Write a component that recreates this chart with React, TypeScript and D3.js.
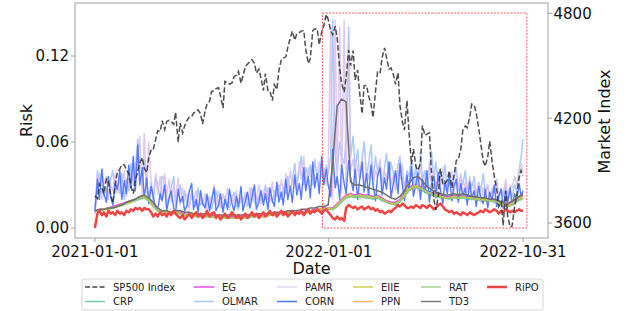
import React from "react";
import * as d3 from "d3";

// ---------- DATA ----------
const startDate = new Date(2021, 0, 1);
const xTickDates = [new Date(2021, 0, 1), new Date(2022, 0, 1), new Date(2022, 9, 31)];
const xTickLabels = ["2021-01-01", "2022-01-01", "2022-10-31"];
const riskTicks = [0, 0.06, 0.12];
const marketTicks = [3600, 4200, 4800];

// semi-weekly series (192 points, every 3.5 days)
const sp500 = [
  3756, 3740, 3824, 3801, 3768, 3852, 3841, 3750, 3714, 3830,
  3886, 3910, 3934, 3932, 3906, 3881, 3811, 3768, 3841, 3898,
  3943, 3974, 3913, 3889, 3974, 4020, 4019, 4080, 4128, 4124,
  4185, 4135, 4180, 4187, 4181, 4165, 4232, 4063, 4173, 4115,
  4155, 4188, 4204, 4208, 4229, 4239, 4247, 4224, 4166, 4241,
  4280, 4297, 4352, 4358, 4369, 4374, 4327, 4258, 4411, 4401,
  4395, 4402, 4436, 4447, 4468, 4400, 4441, 4496, 4509, 4524,
  4535, 4514, 4458, 4480, 4432, 4358, 4455, 4359, 4357, 4300,
  4391, 4364, 4471, 4536, 4544, 4551, 4605, 4660, 4697, 4646,
  4682, 4689, 4698, 4701, 4595, 4513, 4538, 4701, 4712, 4710,
  4620, 4696, 4726, 4793, 4766, 4700, 4677, 4726, 4662, 4483,
  4398, 4349, 4432, 4589, 4500, 4587, 4419, 4475, 4349, 4225,
  4385, 4387, 4329, 4277, 4204, 4357, 4463, 4456, 4543, 4602,
  4546, 4481, 4488, 4446, 4393, 4459, 4272, 4175, 4132, 4300,
  4123, 3935, 4024, 3923, 3901, 3941, 4158, 4101, 4109, 4116,
  3901, 3735, 3675, 3759, 3912, 3818, 3825, 3845, 3899, 3801,
  3863, 3959, 3962, 4023, 4130, 4155, 4145, 4210, 4280, 4274,
  4228, 4140, 4058, 3955, 3924, 3979, 4067, 3946, 3873, 3789,
  3693, 3719, 3586, 3783, 3640, 3577, 3583, 3695, 3752, 3859,
  3901, 3872,
];

const corn = [
  0.012, 0.034, 0.020, 0.041, 0.024, 0.018, 0.036, 0.022, 0.016, 0.031,
  0.027, 0.040, 0.020, 0.033, 0.024, 0.044, 0.028, 0.050, 0.026, 0.058,
  0.030, 0.042, 0.021, 0.035, 0.017, 0.029, 0.022, 0.014, 0.013, 0.024,
  0.019, 0.030, 0.012, 0.021, 0.026, 0.014, 0.011, 0.027, 0.018, 0.022,
  0.012, 0.016, 0.025, 0.031, 0.013, 0.020, 0.011, 0.026, 0.017, 0.014,
  0.023, 0.012, 0.019, 0.028, 0.012, 0.016, 0.024, 0.011, 0.020, 0.013,
  0.027, 0.017, 0.012, 0.022, 0.015, 0.029, 0.012, 0.019, 0.025, 0.014,
  0.021, 0.030, 0.013, 0.018, 0.026, 0.016, 0.024, 0.013, 0.028, 0.019,
  0.015, 0.032, 0.018, 0.025, 0.016, 0.034, 0.020, 0.029, 0.018, 0.037,
  0.023, 0.031, 0.020, 0.042, 0.026, 0.036, 0.021, 0.046, 0.028, 0.038,
  0.024, 0.050, 0.030, 0.041, 0.030, 0.022, 0.055, 0.028, 0.036, 0.020,
  0.044, 0.031, 0.024, 0.047, 0.035, 0.026, 0.041, 0.020, 0.033, 0.046,
  0.025, 0.038, 0.022, 0.044, 0.030, 0.019, 0.036, 0.042, 0.023, 0.035,
  0.027, 0.046, 0.021, 0.032, 0.040, 0.024, 0.045, 0.029, 0.019, 0.037,
  0.026, 0.043, 0.022, 0.031, 0.039, 0.020, 0.034, 0.025, 0.040, 0.018,
  0.030, 0.036, 0.021, 0.039, 0.027, 0.017, 0.033, 0.024, 0.037, 0.019,
  0.029, 0.034, 0.018, 0.031, 0.022, 0.028, 0.016, 0.032, 0.020, 0.026,
  0.015, 0.029, 0.021, 0.017, 0.027, 0.014, 0.025, 0.019, 0.030, 0.015,
  0.022, 0.027, 0.014, 0.026, 0.018, 0.028, 0.016, 0.024, 0.019, 0.031,
  0.022, 0.026,
];

const olmar = [
  0.010, 0.040, 0.030, 0.041, 0.022, 0.028, 0.020, 0.035, 0.040, 0.025,
  0.030, 0.024, 0.038, 0.020, 0.034, 0.026, 0.045, 0.030, 0.040, 0.062,
  0.035, 0.030, 0.048, 0.028, 0.022, 0.032, 0.018, 0.036, 0.030, 0.020,
  0.036, 0.034, 0.016, 0.022, 0.028, 0.036, 0.015, 0.024, 0.030, 0.018,
  0.026, 0.016, 0.014, 0.026, 0.020, 0.015, 0.028, 0.016, 0.020, 0.014,
  0.024, 0.017, 0.013, 0.020, 0.026, 0.015, 0.018, 0.012, 0.022, 0.016,
  0.014, 0.020, 0.025, 0.015, 0.013, 0.022, 0.018, 0.024, 0.015, 0.020,
  0.028, 0.018, 0.016, 0.022, 0.025, 0.018, 0.030, 0.020, 0.024, 0.018,
  0.026, 0.022, 0.030, 0.020, 0.028, 0.024, 0.036, 0.026, 0.034, 0.045,
  0.028, 0.040, 0.050, 0.030, 0.042, 0.036, 0.044, 0.030, 0.048, 0.035,
  0.040, 0.046, 0.032, 0.044, 0.038, 0.050, 0.145, 0.050, 0.040, 0.060,
  0.050, 0.045, 0.062, 0.140, 0.050, 0.064, 0.040, 0.055, 0.035, 0.048,
  0.060, 0.036, 0.045, 0.058, 0.034, 0.050, 0.040, 0.046, 0.030, 0.042,
  0.052, 0.034, 0.046, 0.038, 0.030, 0.044, 0.050, 0.032, 0.028, 0.040,
  0.036, 0.048, 0.030, 0.044, 0.026, 0.052, 0.034, 0.040, 0.028, 0.038,
  0.054, 0.034, 0.046, 0.030, 0.040, 0.032, 0.044, 0.028, 0.038, 0.030,
  0.034, 0.042, 0.026, 0.036, 0.030, 0.040, 0.025, 0.034, 0.028, 0.036,
  0.022, 0.032, 0.026, 0.038, 0.024, 0.030, 0.020, 0.028, 0.024, 0.034,
  0.020, 0.026, 0.022, 0.030, 0.018, 0.025, 0.022, 0.030, 0.026, 0.040,
  0.050, 0.062,
];

const pamr = [
  0.010, 0.025, 0.038, 0.020, 0.030, 0.036, 0.022, 0.030, 0.026, 0.038,
  0.024, 0.034, 0.028, 0.040, 0.022, 0.036, 0.030, 0.044, 0.026, 0.050,
  0.064, 0.020, 0.066, 0.025, 0.060, 0.030, 0.022, 0.038, 0.024, 0.036,
  0.020, 0.038, 0.022, 0.034, 0.018, 0.030, 0.020, 0.035, 0.016, 0.028,
  0.018, 0.024, 0.014, 0.022, 0.018, 0.026, 0.014, 0.020, 0.016, 0.024,
  0.013, 0.022, 0.018, 0.030, 0.016, 0.026, 0.014, 0.024, 0.018, 0.028,
  0.015, 0.022, 0.018, 0.026, 0.014, 0.022, 0.017, 0.025, 0.016, 0.028,
  0.018, 0.024, 0.020, 0.030, 0.017, 0.026, 0.020, 0.028, 0.018, 0.032,
  0.020, 0.027, 0.022, 0.034, 0.024, 0.038, 0.026, 0.040, 0.030, 0.036,
  0.028, 0.046, 0.034, 0.050, 0.030, 0.042, 0.036, 0.044, 0.032, 0.040,
  0.046, 0.036, 0.042, 0.030, 0.040, 0.140, 0.020, 0.145, 0.030, 0.140,
  0.025, 0.145, 0.030, 0.130, 0.040, 0.048, 0.032, 0.044, 0.036, 0.050,
  0.030, 0.042, 0.034, 0.046, 0.030, 0.040, 0.036, 0.048, 0.028, 0.040,
  0.034, 0.046, 0.030, 0.038, 0.026, 0.040, 0.034, 0.044, 0.024, 0.036,
  0.030, 0.042, 0.026, 0.034, 0.030, 0.044, 0.028, 0.036, 0.032, 0.046,
  0.030, 0.040, 0.028, 0.036, 0.030, 0.042, 0.026, 0.034, 0.030, 0.040,
  0.024, 0.034, 0.028, 0.038, 0.022, 0.032, 0.026, 0.036, 0.020, 0.030,
  0.024, 0.032, 0.018, 0.028, 0.022, 0.030, 0.020, 0.026, 0.024, 0.032,
  0.020, 0.028, 0.024, 0.034, 0.022, 0.030, 0.028, 0.036, 0.030, 0.040,
  0.045, 0.040,
];

const ripo = [
  0.000, 0.010, 0.012, 0.009, 0.011, 0.008, 0.012, 0.010, 0.011, 0.009,
  0.012, 0.010, 0.011, 0.009, 0.012, 0.011, 0.013, 0.012, 0.014, 0.013,
  0.014, 0.012, 0.014, 0.013, 0.013, 0.011, 0.008, 0.010, 0.008, 0.011,
  0.009, 0.010, 0.008, 0.011, 0.009, 0.012, 0.010, 0.008, 0.007, 0.009,
  0.006, 0.008, 0.010, 0.007, 0.009, 0.011, 0.008, 0.010, 0.007, 0.009,
  0.012, 0.008, 0.010, 0.011, 0.007, 0.009, 0.006, 0.008, 0.010, 0.007,
  0.008, 0.011, 0.009, 0.007, 0.009, 0.006, 0.008, 0.010, 0.007, 0.009,
  0.011, 0.008, 0.010, 0.007, 0.009, 0.011, 0.008, 0.010, 0.012, 0.009,
  0.011, 0.008, 0.010, 0.012, 0.009, 0.011, 0.008, 0.010, 0.012, 0.009,
  0.011, 0.010, 0.012, 0.009, 0.011, 0.013, 0.010, 0.012, 0.011, 0.013,
  0.012, 0.010, 0.012, 0.013, 0.011, 0.009, 0.007, 0.006, 0.008, 0.006,
  0.007, 0.005, 0.014, 0.016, 0.015, 0.014, 0.015, 0.013, 0.014, 0.015,
  0.013, 0.014, 0.015, 0.013, 0.014, 0.012, 0.013, 0.011, 0.012, 0.010,
  0.011, 0.012, 0.011, 0.013, 0.014, 0.016, 0.015, 0.017, 0.016, 0.014,
  0.014, 0.015, 0.014, 0.016, 0.015, 0.014, 0.016, 0.015, 0.014, 0.016,
  0.015, 0.013, 0.014, 0.016, 0.017, 0.015, 0.013, 0.012, 0.011, 0.012,
  0.010, 0.011, 0.010, 0.009, 0.011, 0.010, 0.009, 0.011, 0.010, 0.009,
  0.010, 0.011, 0.012, 0.011, 0.013, 0.012, 0.011, 0.012, 0.013, 0.012,
  0.010, 0.012, 0.011, 0.013, 0.012, 0.011, 0.012, 0.011, 0.012, 0.013,
  0.012, 0.012,
];

// weekly series (97 points, every 7 days + final day)
const eiie = [
  0.012, 0.012, 0.013, 0.013, 0.014, 0.015, 0.016, 0.017, 0.018, 0.020,
  0.021, 0.022, 0.020, 0.015, 0.012, 0.011, 0.011, 0.010, 0.011, 0.010,
  0.009, 0.009, 0.009, 0.008, 0.009, 0.008, 0.008, 0.008, 0.008, 0.008,
  0.007, 0.007, 0.008, 0.007, 0.007, 0.008, 0.009, 0.008, 0.008, 0.009,
  0.010, 0.010, 0.010, 0.011, 0.011, 0.010, 0.011, 0.011, 0.012, 0.012,
  0.013, 0.013, 0.014, 0.013, 0.016, 0.019, 0.022, 0.023, 0.022, 0.023,
  0.022, 0.022, 0.021, 0.022, 0.020, 0.018, 0.017, 0.017, 0.019, 0.023,
  0.027, 0.029, 0.029, 0.027, 0.025, 0.024, 0.023, 0.022, 0.021, 0.021,
  0.022, 0.021, 0.022, 0.021, 0.021, 0.020, 0.020, 0.020, 0.019, 0.019,
  0.018, 0.016, 0.015, 0.017, 0.019, 0.021, 0.022,
];

const rat = [
  0.012, 0.012, 0.013, 0.014, 0.014, 0.015, 0.016, 0.017, 0.019, 0.020,
  0.021, 0.021, 0.019, 0.015, 0.012, 0.011, 0.010, 0.010, 0.010, 0.010,
  0.009, 0.009, 0.008, 0.008, 0.008, 0.008, 0.008, 0.007, 0.008, 0.007,
  0.007, 0.007, 0.007, 0.007, 0.007, 0.008, 0.008, 0.008, 0.008, 0.009,
  0.009, 0.010, 0.010, 0.010, 0.011, 0.010, 0.011, 0.011, 0.011, 0.012,
  0.012, 0.013, 0.013, 0.013, 0.015, 0.019, 0.021, 0.022, 0.022, 0.022,
  0.022, 0.021, 0.021, 0.021, 0.020, 0.018, 0.017, 0.017, 0.019, 0.022,
  0.026, 0.028, 0.028, 0.027, 0.025, 0.024, 0.022, 0.022, 0.021, 0.021,
  0.021, 0.021, 0.021, 0.021, 0.020, 0.020, 0.020, 0.019, 0.019, 0.019,
  0.018, 0.016, 0.015, 0.016, 0.019, 0.020, 0.021,
];

const eg = [
  0.012, 0.013, 0.013, 0.014, 0.015, 0.016, 0.017, 0.018, 0.019, 0.020,
  0.021, 0.022, 0.020, 0.016, 0.012, 0.011, 0.011, 0.010, 0.011, 0.011,
  0.010, 0.009, 0.009, 0.009, 0.009, 0.009, 0.008, 0.008, 0.008, 0.008,
  0.008, 0.008, 0.008, 0.008, 0.008, 0.008, 0.009, 0.009, 0.009, 0.009,
  0.010, 0.010, 0.011, 0.011, 0.011, 0.011, 0.011, 0.012, 0.012, 0.013,
  0.013, 0.014, 0.014, 0.014, 0.017, 0.020, 0.023, 0.024, 0.023, 0.024,
  0.023, 0.023, 0.022, 0.023, 0.021, 0.019, 0.018, 0.018, 0.020, 0.024,
  0.028, 0.030, 0.030, 0.028, 0.026, 0.025, 0.024, 0.023, 0.022, 0.022,
  0.023, 0.022, 0.023, 0.022, 0.022, 0.021, 0.021, 0.021, 0.020, 0.020,
  0.019, 0.017, 0.016, 0.018, 0.020, 0.022, 0.023,
];

const crp = [
  0.012, 0.012, 0.013, 0.013, 0.014, 0.015, 0.016, 0.017, 0.018, 0.019,
  0.020, 0.021, 0.019, 0.015, 0.012, 0.011, 0.010, 0.010, 0.010, 0.010,
  0.009, 0.009, 0.009, 0.008, 0.008, 0.008, 0.008, 0.008, 0.008, 0.007,
  0.007, 0.007, 0.007, 0.007, 0.007, 0.008, 0.008, 0.008, 0.008, 0.009,
  0.009, 0.010, 0.010, 0.010, 0.011, 0.010, 0.010, 0.011, 0.011, 0.012,
  0.012, 0.013, 0.013, 0.013, 0.015, 0.018, 0.021, 0.022, 0.021, 0.022,
  0.021, 0.021, 0.020, 0.021, 0.019, 0.018, 0.017, 0.016, 0.018, 0.022,
  0.026, 0.028, 0.028, 0.026, 0.024, 0.023, 0.022, 0.021, 0.021, 0.020,
  0.021, 0.020, 0.021, 0.020, 0.020, 0.020, 0.019, 0.019, 0.019, 0.018,
  0.017, 0.016, 0.015, 0.016, 0.018, 0.020, 0.021,
];

const ppn = [
  0.012, 0.012, 0.013, 0.013, 0.014, 0.015, 0.016, 0.017, 0.018, 0.020,
  0.021, 0.022, 0.020, 0.015, 0.012, 0.011, 0.011, 0.010, 0.011, 0.010,
  0.009, 0.009, 0.009, 0.008, 0.009, 0.008, 0.008, 0.008, 0.008, 0.008,
  0.007, 0.007, 0.008, 0.007, 0.007, 0.008, 0.009, 0.008, 0.008, 0.009,
  0.010, 0.010, 0.010, 0.011, 0.011, 0.010, 0.011, 0.011, 0.012, 0.012,
  0.013, 0.013, 0.014, 0.013, 0.016, 0.019, 0.022, 0.023, 0.022, 0.023,
  0.022, 0.022, 0.021, 0.022, 0.020, 0.018, 0.017, 0.017, 0.019, 0.023,
  0.027, 0.029, 0.029, 0.027, 0.025, 0.024, 0.023, 0.022, 0.021, 0.021,
  0.022, 0.021, 0.022, 0.021, 0.021, 0.020, 0.020, 0.020, 0.019, 0.019,
  0.018, 0.016, 0.015, 0.017, 0.019, 0.021, 0.022,
];

const td3 = [
  0.012, 0.013, 0.013, 0.014, 0.014, 0.015, 0.016, 0.018, 0.019, 0.020,
  0.022, 0.023, 0.021, 0.018, 0.014, 0.012, 0.012, 0.011, 0.012, 0.012,
  0.011, 0.011, 0.010, 0.010, 0.010, 0.010, 0.009, 0.009, 0.009, 0.009,
  0.009, 0.009, 0.009, 0.009, 0.009, 0.009, 0.010, 0.010, 0.010, 0.010,
  0.011, 0.011, 0.011, 0.012, 0.012, 0.012, 0.013, 0.013, 0.014, 0.014,
  0.015, 0.015, 0.016, 0.045, 0.085, 0.090, 0.088, 0.032, 0.030, 0.030,
  0.029, 0.028, 0.027, 0.026, 0.025, 0.023, 0.021, 0.020, 0.022, 0.026,
  0.031, 0.035, 0.036, 0.033, 0.029, 0.027, 0.025, 0.024, 0.023, 0.023,
  0.024, 0.023, 0.024, 0.023, 0.022, 0.022, 0.021, 0.021, 0.020, 0.020,
  0.019, 0.018, 0.017, 0.019, 0.021, 0.023, 0.024,
];

const seriesNames = ["CRP", "EG", "OLMAR", "PAMR", "CORN", "EIIE", "PPN", "RAT", "TD3", "RiPO"];
const legendNames = ["SP500 Index", "CRP", "EG", "OLMAR", "PAMR", "CORN", "EIIE", "PPN", "RAT", "TD3", "RiPO"];
const zoomBoxStart = new Date(2021, 11, 22);
const zoomBoxEnd = new Date(2022, 10, 6);
const zoomBoxRisk = [0, 0.15];

// ---------- STYLE ----------
const W = 629, H = 311;
const plot = { left: 75, right: 548, top: 3, bottom: 238 };
const FONT = "DejaVu Sans, sans-serif";
const AXIS = "#a0a0a0";

const styles: Record<string, { color: string; width: number; opacity: number; legendColor?: string }> = {
  CRP: { color: "#76c8b8", width: 1.5, opacity: 1 },
  EG: { color: "#ee44ee", width: 1.5, opacity: 1 },
  OLMAR: { color: "#9fbfff", width: 1.5, opacity: 0.85, legendColor: "#aac6ff" },
  PAMR: { color: "#d9c0ea", width: 1.5, opacity: 0.85, legendColor: "#e6d4f0" },
  CORN: { color: "#4d74ff", width: 1.4, opacity: 0.95 },
  EIIE: { color: "#c6c63a", width: 2, opacity: 1, legendColor: "#cfcf4a" },
  PPN: { color: "#ffb468", width: 1.5, opacity: 0, legendColor: "#ffb468" },
  RAT: { color: "#9cc47a", width: 1.8, opacity: 0.85, legendColor: "#a8d18d" },
  TD3: { color: "#6e6e6e", width: 1.5, opacity: 1, legendColor: "#7a7a7a" },
  RiPO: { color: "#f04545", width: 2.5, opacity: 1 },
};

export default function App() {
  const halfWeekDates = d3.range(sp500.length).map((j) =>
    d3.timeDay.offset(startDate, Math.min(Math.round(j * 3.5), 668))
  );
  const weekDates = d3.range(eiie.length).map((i) =>
    d3.timeDay.offset(startDate, Math.min(i * 7, 668))
  );

  const x = d3
    .scaleTime()
    .domain([new Date(2020, 11, 1), new Date(2022, 11, 9)])
    .range([plot.left, plot.right]);
  const yRisk = d3.scaleLinear().domain([-0.00698, 0.157]).range([plot.bottom, plot.top]);
  const yMkt = d3.scaleLinear().domain([3514, 4859]).range([plot.bottom, plot.top]);

  const lineOf = (dates: Date[], vals: number[], y: d3.ScaleLinear<number, number>) =>
    d3
      .line<number>()
      .x((_, i) => x(dates[i]))
      .y((v) => y(v))(vals.slice(0, dates.length)) || "";

  const seriesData: Record<string, { dates: Date[]; vals: number[] }> = {
    CRP: { dates: weekDates, vals: crp },
    EG: { dates: weekDates, vals: eg },
    OLMAR: { dates: halfWeekDates, vals: olmar },
    PAMR: { dates: halfWeekDates, vals: pamr },
    CORN: { dates: halfWeekDates, vals: corn },
    EIIE: { dates: weekDates, vals: eiie },
    PPN: { dates: weekDates, vals: ppn },
    RAT: { dates: weekDates, vals: rat },
    TD3: { dates: weekDates, vals: td3 },
    RiPO: { dates: halfWeekDates, vals: ripo },
  };

  const colLineX = [85, 194, 277, 353, 421, 487];
  const rowY = [287, 301.5];

  return (
    <svg
      width={W}
      height={H}
      style={{ position: "absolute", left: 0, top: 0, background: "#fff" }}
      fontFamily={FONT}
    >
      <defs>
        <clipPath id="plotclip">
          <rect x={plot.left} y={plot.top} width={plot.right - plot.left} height={plot.bottom - plot.top} />
        </clipPath>
      </defs>
      <rect x={0} y={0} width={W} height={H} fill="#fff" />

      <g clipPath="url(#plotclip)">
        {seriesNames.map((name) => {
          const s = styles[name];
          const d = seriesData[name];
          return (
            <path
              key={name}
              d={lineOf(d.dates, d.vals, yRisk)}
              fill="none"
              stroke={s.color}
              strokeWidth={s.width}
              strokeOpacity={s.opacity}
              strokeLinejoin="round"
            />
          );
        })}
        <path
          d={lineOf(halfWeekDates, sp500, yMkt)}
          fill="none"
          stroke="#2e2e2e"
          strokeOpacity={0.85}
          strokeWidth={1.5}
          strokeDasharray="5.5,2.4"
        />
        <rect
          x={x(zoomBoxStart)}
          y={yRisk(zoomBoxRisk[1])}
          width={x(zoomBoxEnd) - x(zoomBoxStart)}
          height={yRisk(zoomBoxRisk[0]) - yRisk(zoomBoxRisk[1])}
          fill="none"
          stroke="#ff3030"
          strokeWidth={0.8}
          strokeDasharray="2,1.3"
        />
      </g>

      <rect
        x={plot.left}
        y={plot.top}
        width={plot.right - plot.left}
        height={plot.bottom - plot.top}
        fill="none"
        stroke={AXIS}
        strokeWidth={1}
      />

      {xTickDates.map((d, i) => (
        <g key={i}>
          <line x1={x(d)} x2={x(d)} y1={plot.bottom} y2={plot.bottom + 4} stroke={AXIS} />
          <text x={x(d)} y={256.5} fontSize={15} textAnchor="middle" fill="#111">
            {xTickLabels[i]}
          </text>
        </g>
      ))}
      <text x={(plot.left + plot.right) / 2} y={274} fontSize={16} textAnchor="middle" fill="#111">
        Date
      </text>

      {riskTicks.map((t) => (
        <g key={t}>
          <line x1={plot.left - 4} x2={plot.left} y1={yRisk(t)} y2={yRisk(t)} stroke={AXIS} />
          <text x={plot.left - 6} y={yRisk(t)} dy="0.36em" fontSize={15} textAnchor="end" fill="#111">
            {d3.format(".2f")(t)}
          </text>
        </g>
      ))}
      <text
        transform={`translate(31.5, ${(plot.top + plot.bottom) / 2}) rotate(-90)`}
        fontSize={16}
        textAnchor="middle"
        fill="#111"
      >
        Risk
      </text>

      {marketTicks.map((t) => (
        <g key={t}>
          <line x1={plot.right} x2={plot.right + 4} y1={yMkt(t)} y2={yMkt(t)} stroke={AXIS} />
          <text x={plot.right + 5.5} y={yMkt(t)} dy="0.36em" fontSize={15} textAnchor="start" fill="#111">
            {t}
          </text>
        </g>
      ))}
      <text
        transform={`translate(610, ${(plot.top + plot.bottom) / 2 + 1}) rotate(-90)`}
        fontSize={16}
        textAnchor="middle"
        fill="#111"
      >
        Market Index
      </text>

      <rect x={82} y={279} width={461} height={31} rx={2} fill="#fff" fillOpacity={0.8} stroke="#d6d6d6" strokeWidth={1} />
      {legendNames.map((name, k) => {
        const col = Math.floor(k / 2);
        const row = k % 2;
        const lx = colLineX[col];
        const ly = rowY[row];
        const isSP = name === "SP500 Index";
        const s = isSP ? null : styles[name];
        return (
          <g key={name}>
            <line
              x1={lx}
              x2={lx + 20}
              y1={ly}
              y2={ly}
              stroke={isSP ? "#444" : s!.legendColor || s!.color}
              strokeWidth={isSP ? 1.5 : name === "RiPO" ? 2.5 : 1.5}
              strokeDasharray={isSP ? "5,2.3" : undefined}
            />
            <text x={lx + 28} y={ly} dy="0.36em" fontSize={10} fill="#222">
              {name}
            </text>
          </g>
        );
      })}
    </svg>
  );
}
